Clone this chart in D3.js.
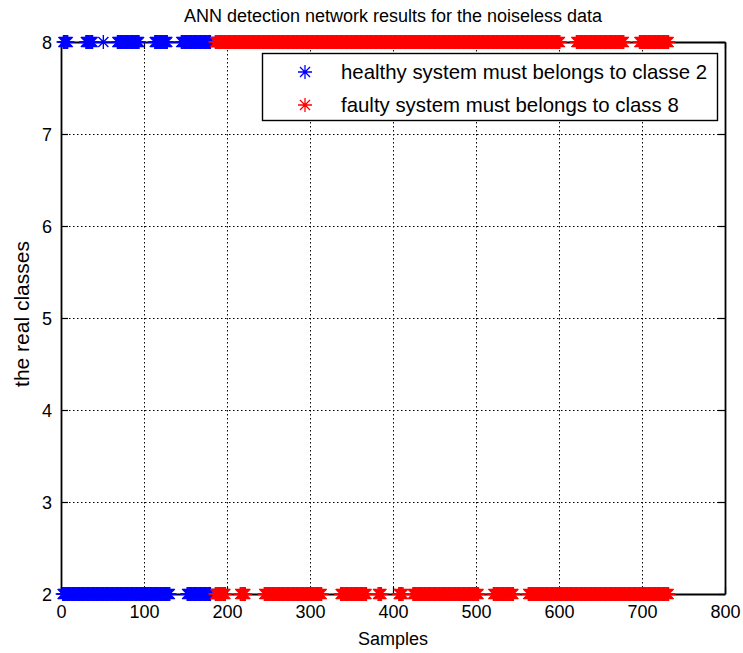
<!DOCTYPE html>
<html>
<head>
<meta charset="utf-8">
<script src="https://cdn.jsdelivr.net/npm/d3@7"></script>
<style>
  html, body { margin: 0; padding: 0; background: #fff; }
  svg text { font-family: "Liberation Sans", Arial, Helvetica, sans-serif; fill: #000; }
</style>
</head>
<body>
<div id="chart"></div>
<script>
// Sample runs [first, last] where each group's output sits at a given class level
const healthyAt8 = [[3, 8], [30, 38], [51, 51], [68, 94], [113, 128], [145, 180]];
const healthyAt2 = [[2, 131], [152, 180]];
const faultyAt8 = [[186, 601], [621, 678], [697, 732]];
const faultyAt2 = [[186, 198], [216, 222], [245, 314], [337, 368], [382, 386], [407, 412], [424, 503], [521, 545], [563, 732]];

const xTicks = [0, 100, 200, 300, 400, 500, 600, 700, 800];
const yTicks = [2, 3, 4, 5, 6, 7, 8];

const titleText = "ANN detection network results for the noiseless data";
const xLabel = "Samples";
const yLabel = "the real classes";
const legendLabels = ["healthy system must belongs to classe 2", "faulty system must belongs to class 8"];
const seriesColors = ["#0000ff", "#ff0000"];

const W = 743, H = 653;
const margin = { left: 61, right: 18, top: 42, bottom: 59 };

const svg = d3.select("#chart").append("svg")
  .attr("width", W).attr("height", H);

const x = d3.scaleLinear().domain([0, 800]).range([margin.left, W - margin.right]);
const y = d3.scaleLinear().domain([2, 8]).range([H - margin.bottom, margin.top]);

// dotted grid
const grid = svg.append("g").attr("stroke", "#000").attr("stroke-width", 1)
  .attr("stroke-dasharray", "1.5,2.5");
grid.selectAll("line.gx").data(xTicks.slice(1, -1)).join("line")
  .attr("x1", d => Math.round(x(d)) + 0.5).attr("x2", d => Math.round(x(d)) + 0.5)
  .attr("y1", y(8)).attr("y2", y(2));
grid.selectAll("line.gy").data(yTicks.slice(1, -1)).join("line")
  .attr("y1", d => Math.round(y(d)) + 0.5).attr("y2", d => Math.round(y(d)) + 0.5)
  .attr("x1", x(0)).attr("x2", x(800));

// axes with inward ticks on all four sides
const tickLen = 7;
const fontTick = 18;
const fmt = d3.format("d");
const bottomAx = svg.append("g").attr("transform", `translate(0,${y(2)})`)
  .call(d3.axisBottom(x).tickValues(xTicks).tickFormat(fmt).tickSizeInner(-tickLen).tickSizeOuter(0).tickPadding(11));
const topAx = svg.append("g").attr("transform", `translate(0,${y(8)})`)
  .call(d3.axisTop(x).tickValues(xTicks).tickSizeInner(-tickLen).tickSizeOuter(0).tickFormat(""));
const leftAx = svg.append("g").attr("transform", `translate(${x(0)},0)`)
  .call(d3.axisLeft(y).tickValues(yTicks).tickFormat(fmt).tickSizeInner(-tickLen).tickSizeOuter(0).tickPadding(9));
const rightAx = svg.append("g").attr("transform", `translate(${x(800)},0)`)
  .call(d3.axisRight(y).tickValues(yTicks).tickSizeInner(-tickLen).tickSizeOuter(0).tickFormat(""));

[bottomAx, topAx, leftAx, rightAx].forEach(g => {
  g.select(".domain").attr("stroke", "#000").attr("stroke-width", 1.8);
  g.selectAll(".tick line").attr("stroke", "#000").attr("stroke-width", 1.2);
  g.selectAll(".tick text").attr("font-size", fontTick)
    .attr("font-family", "'Liberation Sans', Arial, sans-serif").attr("fill", "#000");
});
leftAx.selectAll(".tick text").attr("dy", "0.36em");

// asterisk marker
const r = 7, rd = r * 0.72;
const starPath = `M0,${-r}V${r}M${-r},0H${r}M${-rd},${-rd}L${rd},${rd}M${-rd},${rd}L${rd},${-rd}`;

function expand(runs) {
  const out = [];
  runs.forEach(([a, b]) => { for (let s = a; s <= b; s++) out.push(s); });
  return out;
}

const series = [
  { samples: expand(healthyAt8), level: 8, color: seriesColors[0] },
  { samples: expand(healthyAt2), level: 2, color: seriesColors[0] },
  { samples: expand(faultyAt8), level: 8, color: seriesColors[1] },
  { samples: expand(faultyAt2), level: 2, color: seriesColors[1] }
];

const marks = svg.append("g");
series.forEach(sr => {
  marks.append("g").attr("stroke", sr.color).attr("stroke-width", 1.4).attr("fill", "none")
    .selectAll("path").data(sr.samples).join("path")
    .attr("d", starPath)
    .attr("transform", d => `translate(${x(d)},${y(sr.level)})`);
});

// title and axis labels
svg.append("text").attr("x", (x(0) + x(800)) / 2).attr("y", 22)
  .attr("text-anchor", "middle").attr("font-size", 18).text(titleText);
svg.append("text").attr("x", (x(0) + x(800)) / 2).attr("y", 645)
  .attr("text-anchor", "middle").attr("font-size", 18).text(xLabel);
svg.append("text").attr("transform", `translate(29,${(y(2) + y(8)) / 2 - 4}) rotate(-90)`)
  .attr("text-anchor", "middle").attr("font-size", 21).text(yLabel);

// legend
const lg = svg.append("g");
lg.append("rect").attr("x", 262.5).attr("y", 53.5).attr("width", 455).attr("height", 67)
  .attr("fill", "#fff").attr("stroke", "#000").attr("stroke-width", 1.4);
legendLabels.forEach((lab, i) => {
  const cy = 72 + i * 33;
  lg.append("path").attr("d", starPath).attr("transform", `translate(305,${cy})`)
    .attr("stroke", seriesColors[i]).attr("stroke-width", 1.3).attr("fill", "none");
  lg.append("text").attr("x", 341).attr("y", cy).attr("dy", "0.35em")
    .attr("font-size", 20.4).text(lab);
});
</script>
</body>
</html>
